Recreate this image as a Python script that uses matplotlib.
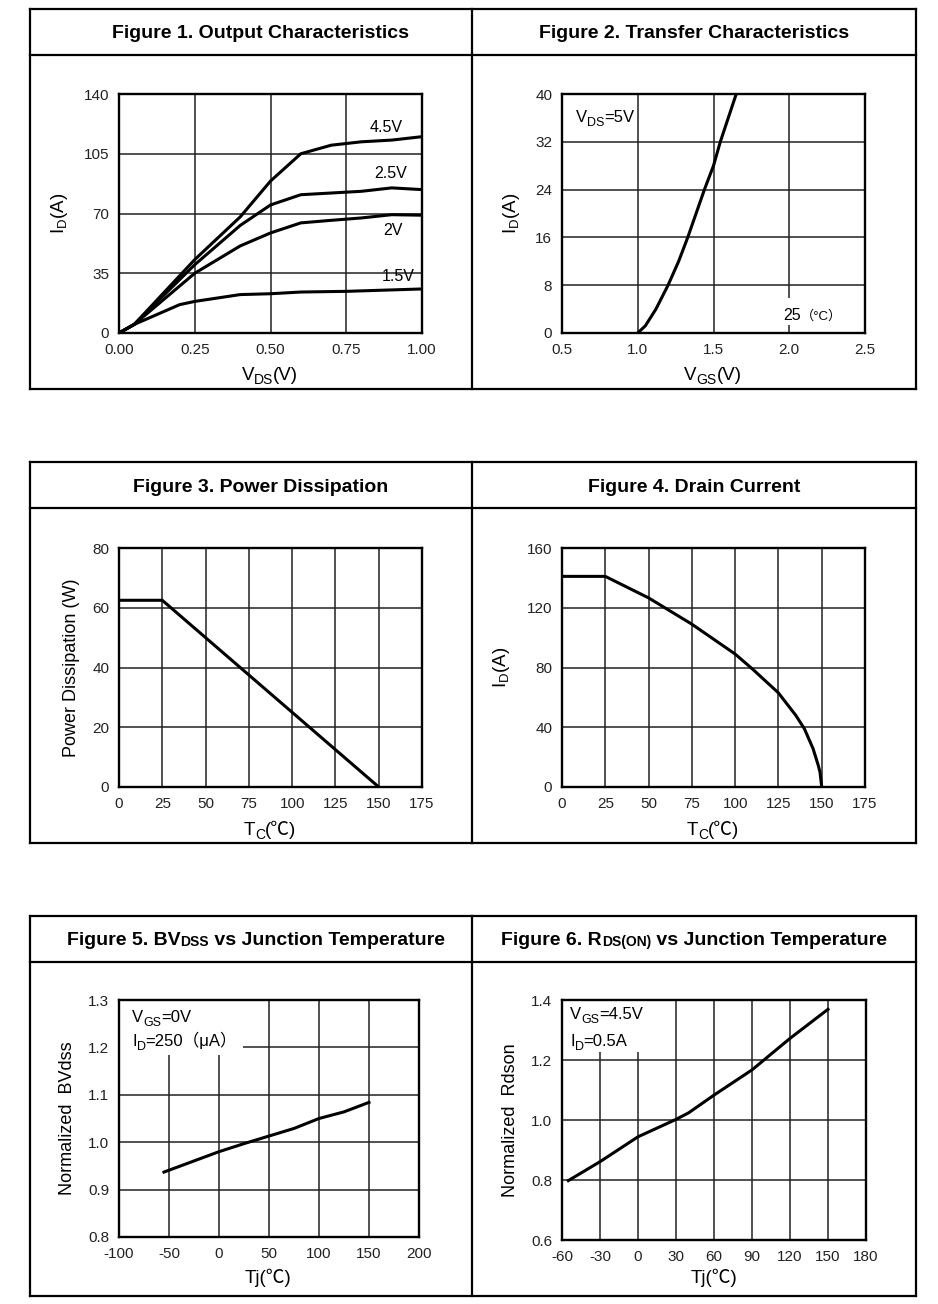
import matplotlib
matplotlib.use("Agg")
import matplotlib.pyplot as plt
from matplotlib.lines import Line2D
from matplotlib.patches import Rectangle

plt.rcParams["font.family"] = ["Liberation Sans", "Noto Sans CJK SC", "DejaVu Sans"]
plt.rcParams["axes.unicode_minus"] = False

# ---- data ----
vds = [0.0, 0.05, 0.25, 0.4, 0.5, 0.6, 0.7, 0.8, 0.9, 1.0]
id_45 = [0, 5, 43, 68, 89, 105, 110, 112, 113, 115]
id_25 = [0, 5, 40, 63, 75, 81, 82, 83, 85, 84]
id_20 = [0, 5, 35, 51, 58.6, 64.5, 66, 67.4, 69.3, 69]
vds_15 = [0.0, 0.05, 0.2, 0.25, 0.4, 0.5, 0.6, 0.75, 1.0]
id_15 = [0, 5, 16.6, 18.5, 22.5, 23, 24, 24.4, 25.8]

vgs = [1.0, 1.05, 1.12, 1.2, 1.27, 1.33, 1.44, 1.5, 1.545, 1.65]
id_vgs = [0, 1.2, 4, 8, 12, 16, 24, 28, 32, 40]

tc_pd = [0, 25, 150]
pd = [62.5, 62.5, 0]

tc_id = [0, 25, 50, 75, 100, 110, 125, 135, 140, 145, 148, 149, 150]
id_tc = [141, 141, 126.6, 109, 89, 79, 63, 48, 39, 25.7, 14.5, 10, 0]

tj_bv = [-55, 0, 25, 50, 75, 100, 125, 150]
bv_norm = [0.937, 0.98, 0.997, 1.013, 1.029, 1.05, 1.064, 1.084]

tj_rds = [-55, -30, 0, 30, 40, 60, 90, 100, 120, 150]
rds_norm = [0.798, 0.861, 0.944, 1.002, 1.024, 1.083, 1.167, 1.202, 1.272, 1.369]

W, H = 938, 1304
fig = plt.figure(figsize=(W / 100, H / 100), dpi=100)
fig.patch.set_facecolor("white")
renderer = fig.canvas.get_renderer()


def frame_line(x0, y0, x1, y1, lw=1.6):
    fig.add_artist(Line2D([x0 / W, x1 / W], [1 - y0 / H, 1 - y1 / H],
                          transform=fig.transFigure, color="black", lw=lw))


def rich(x, y, parts, ha="center", **kw):
    # parts: (text, size, dy in px downwards); x, y in pixels from top-left, y = baseline
    items = []
    for s, size, dy in parts:
        t = fig.text(0, 0, s, fontsize=size, va="baseline", **kw)
        items.append((t, t.get_window_extent(renderer).width, dy))
    total = sum(w for _, w, _ in items)
    cx = x - total / 2 if ha == "center" else x
    for t, w, dy in items:
        t.set_position((cx / W, 1 - (y + dy) / H))
        cx += w


def make_axes(l, t, r, b, xlim, ylim, xticks, yticks, xfmt=None, yfmt=None):
    ax = fig.add_axes([l / W, 1 - b / H, (r - l) / W, (b - t) / H])
    ax.set_xlim(xlim)
    ax.set_ylim(ylim)
    ax.set_xticks(xticks)
    ax.set_yticks(yticks)
    if xfmt:
        ax.set_xticklabels([xfmt % v for v in xticks])
    if yfmt:
        ax.set_yticklabels([yfmt % v for v in yticks])
    ax.grid(True, color="#222222", lw=1.1)
    ax.set_axisbelow(True)
    ax.tick_params(length=0, pad=7, labelsize=11, labelcolor="#222222")
    for s in ax.spines.values():
        s.set_linewidth(1.7)
    return ax


# ---- outer boxes ----
rows = [(9, 55, 389), (462, 508, 843), (916, 962, 1296)]
for top, sep, bot in rows:
    frame_line(30, top, 916, top)
    frame_line(30, sep, 916, sep)
    frame_line(30, bot, 916, bot)
    frame_line(30, top, 30, bot)
    frame_line(472, top, 472, bot)
    frame_line(916, top, 916, bot)

TS = 14
rich(260, 38, [("Figure 1. Output Characteristics", TS, 0)], weight="bold")
rich(694, 38, [("Figure 2. Transfer Characteristics", TS, 0)], weight="bold")
rich(261, 492, [("Figure 3. Power Dissipation", TS, 0)], weight="bold")
rich(694, 492, [("Figure 4. Drain Current", TS, 0)], weight="bold")
rich(256, 945, [("Figure 5. BV", TS, 0), ("DSS", 10, 1), (" vs Junction Temperature", TS, 0)], weight="bold")
rich(694, 945, [("Figure 6. R", TS, 0), ("DS(ON)", 10, 1), (" vs Junction Temperature", TS, 0)], weight="bold")

LW = 2.2
LS = 13.5

# ---- Figure 1 ----
ax1 = make_axes(119, 94, 422, 333, (0, 1), (0, 140), [0, 0.25, 0.5, 0.75, 1.0], [0, 35, 70, 105, 140], xfmt="%.2f")
ax1.plot(vds, id_45, color="black", lw=LW)
ax1.plot(vds, id_25, color="black", lw=LW)
ax1.plot(vds, id_20, color="black", lw=LW)
ax1.plot(vds_15, id_15, color="black", lw=LW)
for lab, x, y in [("4.5V", 0.883, 120.4), ("2.5V", 0.897, 93.7), ("2V", 0.905, 60), ("1.5V", 0.922, 33.2)]:
    ax1.text(x, y, lab, ha="center", va="center", fontsize=11.5)
ax1.set_ylabel(r"I$_\mathregular{D}$(A)", fontsize=LS)
ax1.yaxis.set_label_coords((70 - 119) / 303, 0.5)
rich(270, 380, [("V", LS, 0), ("DS", 10, 4), ("(V)", LS, 0)])

# ---- Figure 2 ----
ax2 = make_axes(562, 94, 865, 333, (0.5, 2.5), (0, 40), [0.5, 1.0, 1.5, 2.0, 2.5], [0, 8, 16, 24, 32, 40], xfmt="%.1f")
ax2.plot(vgs, id_vgs, color="black", lw=LW)
ax2.add_patch(Rectangle((1.95, 1.34), 0.41, 4.52, facecolor="white", edgecolor="none", zorder=1))
ax2.set_ylabel(r"I$_\mathregular{D}$(A)", fontsize=LS)
ax2.yaxis.set_label_coords((522 - 562) / 303, 0.5)
rich(576, 122, [("V", 12, 0), ("DS", 9, 4), ("=5V", 12, 0)], ha="left")
rich(783, 320, [("25", 11.5, 0), ("（°C）", 9.5, 0)], ha="left")
rich(713, 380, [("V", LS, 0), ("GS", 10, 4), ("(V)", LS, 0)])

# ---- Figure 3 ----
ax3 = make_axes(119, 548, 422, 787, (0, 175), (0, 80), [0, 25, 50, 75, 100, 125, 150, 175], [0, 20, 40, 60, 80])
ax3.plot(tc_pd, pd, color="black", lw=LW)
ax3.set_ylabel("Power Dissipation (W)", fontsize=13)
ax3.yaxis.set_label_coords((80 - 119) / 303, 0.5)
rich(270, 835, [("T", LS, 0), ("C", 10, 4), ("(℃)", LS, 0)])

# ---- Figure 4 ----
ax4 = make_axes(562, 548, 865, 787, (0, 175), (0, 160), [0, 25, 50, 75, 100, 125, 150, 175], [0, 40, 80, 120, 160])
ax4.plot(tc_id, id_tc, color="black", lw=LW)
ax4.set_ylabel(r"I$_\mathregular{D}$(A)", fontsize=LS)
ax4.yaxis.set_label_coords((512 - 562) / 303, 0.5)
rich(713, 835, [("T", LS, 0), ("C", 10, 4), ("(℃)", LS, 0)])

# ---- Figure 5 ----
ax5 = make_axes(119, 1000, 419, 1237, (-100, 200), (0.8, 1.3), [-100, -50, 0, 50, 100, 150, 200],
                [0.8, 0.9, 1.0, 1.1, 1.2, 1.3], yfmt="%.1f")
ax5.plot(tj_bv, bv_norm, color="black", lw=LW)
ax5.add_patch(Rectangle((-100, 1.184), 124, 0.116, facecolor="white", edgecolor="none", zorder=1))
ax5.set_ylabel("Normalized  BVdss", fontsize=13)
ax5.yaxis.set_label_coords((76 - 119) / 300, 0.5)
rich(132, 1022, [("V", 12, 0), ("GS", 9, 4), ("=0V", 12, 0)], ha="left")
rich(132, 1046, [("I", 12, 0), ("D", 9, 4), ("=250（μA）", 12, 0)], ha="left")
rich(268, 1283, [("Tj(℃)", LS, 0)])

# ---- Figure 6 ----
ax6 = make_axes(562, 1000, 866, 1240, (-60, 180), (0.6, 1.4), [-60, -30, 0, 30, 60, 90, 120, 150, 180],
                [0.6, 0.8, 1.0, 1.2, 1.4], yfmt="%.1f")
ax6.plot(tj_rds, rds_norm, color="black", lw=LW)
ax6.add_patch(Rectangle((-60, 1.227), 75, 0.173, facecolor="white", edgecolor="none", zorder=1))
ax6.set_ylabel("Normalized  Rdson", fontsize=13)
ax6.yaxis.set_label_coords((519 - 562) / 304, 0.5)
rich(570, 1019, [("V", 12, 0), ("GS", 9, 4), ("=4.5V", 12, 0)], ha="left")
rich(570, 1046, [("I", 12, 0), ("D", 9, 4), ("=0.5A", 12, 0)], ha="left")
rich(714, 1283, [("Tj(℃)", LS, 0)])

fig.savefig("out.png", dpi=100, facecolor="white")
